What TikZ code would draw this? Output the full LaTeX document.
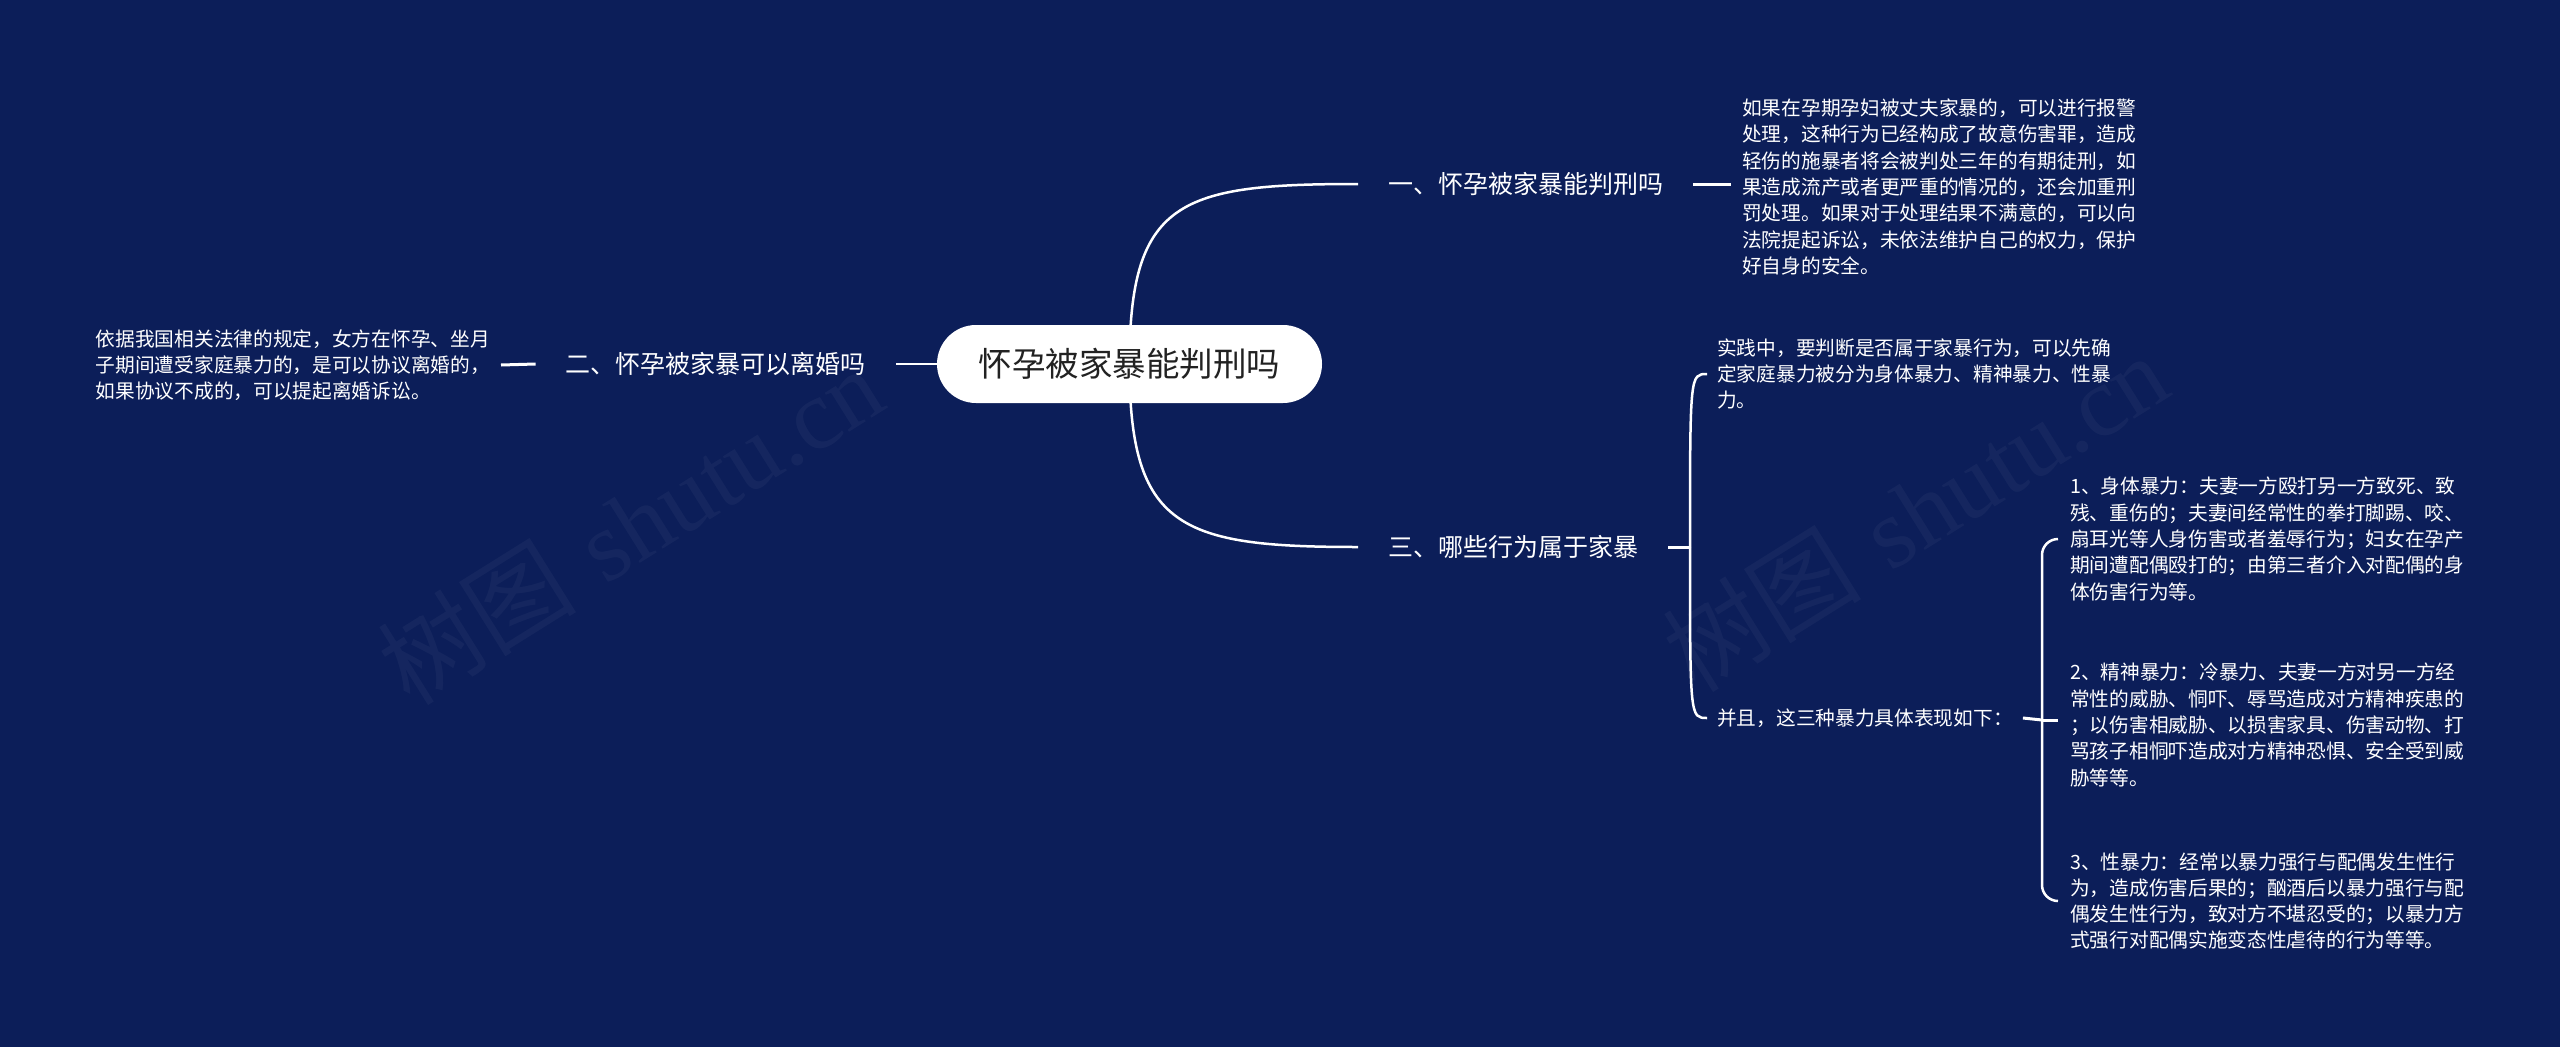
\documentclass[tikz,border=0pt]{standalone}
\usepackage{fontspec}
\newfontfamily\cjk{Noto Sans CJK SC}
\newfontfamily\wmserif{Liberation Serif}
\usetikzlibrary{backgrounds}
\definecolor{bg}{RGB}{12,30,89}
\definecolor{roottext}{RGB}{34,34,34}
\tikzset{
  small/.style={font=\cjk\fontsize{19.7}{26.3}\selectfont, text=white, align=left, inner ysep=0pt},
  branch/.style={font=\cjk\fontsize{25}{30}\selectfont, text=white, inner xsep=30pt, inner ysep=4pt},
  rootbox/.style={fill=white, rounded corners=39pt, minimum width=385pt, minimum height=78pt, inner sep=0pt,
    font=\cjk\fontsize{33.5}{40}\selectfont, text=roottext},
  conn/.style={draw=white, line width=2.5pt},
  tick/.style={draw=white, line width=3pt},
  wmark/.style={font=\fontsize{100}{105}\selectfont, text=white, opacity=0.04}
}
\begin{document}
\begin{tikzpicture}[x=1pt,y=-1pt]
\useasboundingbox (0,0) rectangle (2560,1047);

% root
\node[rootbox] (root) at (1129.5,364) {怀孕被家暴能判刑吗};

% main branches
\node[branch, anchor=west] (b1) at (1358,184) {一、怀孕被家暴能判刑吗};
\node[branch, anchor=east] (b2) at (896,364) {二、怀孕被家暴可以离婚吗};
\node[branch, anchor=west] (b3) at (1358,547) {三、哪些行为属于家暴};

% leaf texts
\node[small, inner xsep=11pt, anchor=west] (t1) at (1731,187) {如果在孕期孕妇被丈夫家暴的，可以进行报警\\
处理，这种行为已经构成了故意伤害罪，造成\\
轻伤的施暴者将会被判处三年的有期徒刑，如\\
果造成流产或者更严重的情况的，还会加重刑\\
罚处理。如果对于处理结果不满意的，可以向\\
法院提起诉讼，未依法维护自己的权力，保护\\
好自身的安全。};

\node[small, inner xsep=11pt, anchor=east] (t2) at (501,365) {依据我国相关法律的规定，女方在怀孕、坐月\\
子期间遭受家庭暴力的，是可以协议离婚的，\\
如果协议不成的，可以提起离婚诉讼。};

\node[small, inner xsep=10pt, anchor=west] (t3a) at (1707,374) {实践中，要判断是否属于家暴行为，可以先确\\
定家庭暴力被分为身体暴力、精神暴力、性暴\\
力。};

\node[small, inner xsep=10pt, anchor=west] (t3b) at (1707,718) {并且，这三种暴力具体表现如下：};

\node[small, inner xsep=12pt, anchor=west] (c1) at (2058,539) {1、身体暴力：夫妻一方殴打另一方致死、致\\
残、重伤的；夫妻间经常性的拳打脚踢、咬、\\
扇耳光等人身伤害或者羞辱行为；妇女在孕产\\
期间遭配偶殴打的；由第三者介入对配偶的身\\
体伤害行为等。};

\node[small, inner xsep=12pt, anchor=west] (c2) at (2058,725) {2、精神暴力：冷暴力、夫妻一方对另一方经\\
常性的威胁、恫吓、辱骂造成对方精神疾患的\\
；以伤害相威胁、以损害家具、伤害动物、打\\
骂孩子相恫吓造成对方精神恐惧、安全受到威\\
胁等等。};

\node[small, inner xsep=12pt, anchor=west] (c3) at (2058,901) {3、性暴力：经常以暴力强行与配偶发生性行\\
为，造成伤害后果的；酗酒后以暴力强行与配\\
偶发生性行为，致对方不堪忍受的；以暴力方\\
式强行对配偶实施变态性虐待的行为等等。};

\coordinate (j1) at (1690,547);
\coordinate (j2) at (2042,720);

\begin{scope}[on background layer]
\fill[bg] (0,0) rectangle (2560,1047);
\node[wmark, rotate=32] (w1) at (630,525) {{\cjk 树图} \wmserif shutu.cn};
\node[wmark, rotate=32] (w2) at (1915,512) {{\cjk 树图} \wmserif shutu.cn};
\draw[conn] (root.center) .. controls (1129.5,200) and (1180,184) .. (b1.west);
\draw[conn] (root.center) .. controls (1129.5,528) and (1180,547) .. (b3.west);
\draw[conn] (root.center) -- (b2.east);
\end{scope}

\draw[tick] (b1.east) -- (b1.east -| t1.west);
\draw[tick] (b2.west) -- (t2.east);
\draw[tick] (b3.east) -- (j1);

\draw[conn] (j1) .. controls (j1 |- t3a.west) .. (t3a.west);
\draw[conn] (j1) .. controls (j1 |- t3b.west) .. (t3b.west);

\draw[tick] (t3b.east) -- (j2);
\draw[conn, rounded corners=16pt] (j2) |- (c1.west);
\draw[conn, rounded corners=16pt] (j2) |- (c3.west);
\draw[tick] (j2) -- (j2 -| c2.west);
\end{tikzpicture}
\end{document}
